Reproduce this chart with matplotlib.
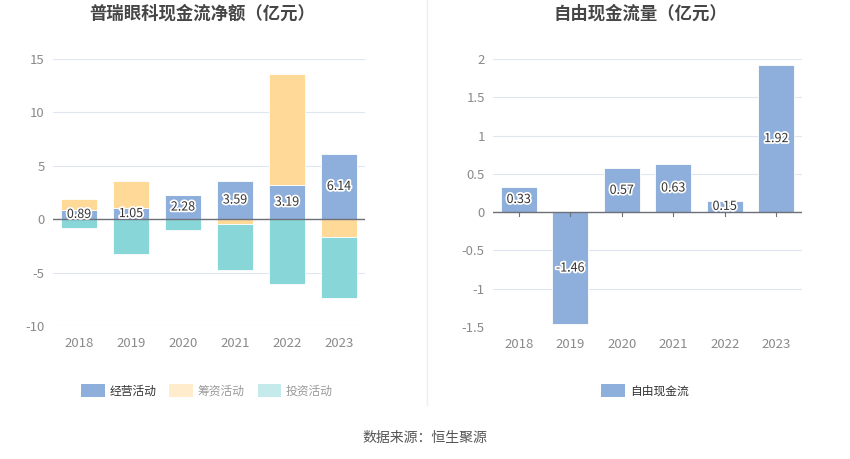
import numpy as np
import matplotlib
matplotlib.use("Agg")
import matplotlib.pyplot as plt
import matplotlib.patheffects as pe
from matplotlib.patches import Patch

plt.rcParams["font.family"] = ["Noto Sans CJK SC", "DejaVu Sans"]
plt.rcParams["axes.unicode_minus"] = False

# ── data ─────────────────────────────────────────────────────────────
years = ["2018", "2019", "2020", "2021", "2022", "2023"]
operating = [0.89, 1.05, 2.28, 3.59, 3.19, 6.14]
financing = [0.98, 2.48, 0.0, -0.47, 10.40, -1.69]
investing = [-0.84, -3.28, -0.97, -4.25, -6.03, -5.65]
free_cf = [0.33, -1.46, 0.57, 0.63, 0.15, 1.92]

left_ticks = [-10, -5, 0, 5, 10, 15]
right_ticks = [-1.5, -1, -0.5, 0, 0.5, 1, 1.5, 2]

# ── style ────────────────────────────────────────────────────────────
C_OP = "#8eaedb"
C_FIN = "#fed998"
C_INV = "#88d6d8"
GRID = "#e0e6f1"
TICK = "#8a8a8a"
BAR_W = 0.69
outline = [pe.withStroke(linewidth=2.5, foreground="white")]

fig = plt.figure(figsize=(8.5, 4.59), dpi=100)
W, H = 850, 459


def axes_px(x0, x1, y0, y1):
    return fig.add_axes([x0 / W, 1 - y1 / H, (x1 - x0) / W, (y1 - y0) / H])


def style_axes(ax, ticks, ylim, fmt):
    ax.set_xlim(-0.5, len(years) - 0.5)
    ax.set_ylim(*ylim)
    ax.set_yticks(ticks)
    ax.set_yticklabels([fmt(t) for t in ticks])
    ax.set_xticks(range(len(years)))
    ax.set_xticklabels(years)
    for s in ax.spines.values():
        s.set_visible(False)
    ax.grid(axis="y", color=GRID, linewidth=0.8)
    ax.set_axisbelow(True)
    ax.axhline(0, color="#6e7079", linewidth=1, zorder=3)
    ax.tick_params(axis="y", length=0, colors=TICK, labelsize=9.5, pad=6)
    ax.tick_params(axis="x", length=0, colors=TICK, labelsize=9.5, pad=8)


def num(t):
    return f"{t:g}"


x = np.arange(len(years))

# ── left: stacked cash flows ─────────────────────────────────────────
ax1 = axes_px(53, 365, 59, 326)
op = np.array(operating)
fin = np.array(financing)
inv = np.array(investing)
pos_base = np.zeros(len(x))
neg_base = np.zeros(len(x))
for vals, color in [(op, C_OP), (fin, C_FIN), (inv, C_INV)]:
    bottoms = np.where(vals >= 0, pos_base, neg_base)
    ax1.bar(x, vals, BAR_W, bottom=bottoms, color=color,
            edgecolor="white", linewidth=0.6, zorder=2)
    pos_base = pos_base + np.clip(vals, 0, None)
    neg_base = neg_base + np.clip(vals, None, 0)
for xi, v in zip(x, operating):
    ax1.text(xi, v / 2, f"{v:.2f}", ha="center", va="center", fontsize=9,
             color="#333333", path_effects=outline, zorder=5)
style_axes(ax1, left_ticks, (-10, 15), num)

# ── right: free cash flow ────────────────────────────────────────────
ax2 = axes_px(493, 802, 59, 327)
ax2.bar(x, free_cf, BAR_W, color=C_OP, edgecolor="white", linewidth=0.6, zorder=2)
for xi, v in zip(x, free_cf):
    ax2.text(xi, v / 2, f"{v:.2f}", ha="center", va="center", fontsize=9,
             color="#333333", path_effects=outline, zorder=5)
style_axes(ax2, right_ticks, (-1.5, 2), num)
for xi in x:
    ax2.plot([xi, xi], [0, -0.05], color="#6e7079", linewidth=0.8,
             zorder=3, clip_on=False)

# ── titles, legends, separator ───────────────────────────────────────
fig.text(202 / W, 1 - 14 / H, "普瑞眼科现金流净额（亿元）", ha="center", va="center",
         fontsize=12.5, fontweight="bold", color="#464646")
fig.text(640 / W, 1 - 14 / H, "自由现金流量（亿元）", ha="center", va="center",
         fontsize=12.5, fontweight="bold", color="#464646")

fig.add_artist(plt.Line2D([427 / W, 427 / W], [1 - 405 / H, 1], color="#eeeeee",
                          linewidth=1))

leg1 = fig.legend(
    handles=[Patch(facecolor=C_OP, edgecolor="none", label="经营活动"),
             Patch(facecolor="#ffeccc", edgecolor="none", label="筹资活动"),
             Patch(facecolor="#c4eaeb", edgecolor="none", label="投资活动")],
    loc="center", bbox_to_anchor=(207 / W, 1 - 391 / H), ncol=3, frameon=False,
    fontsize=8.5, handlelength=2.0, handleheight=1.2, handletextpad=0.4,
    columnspacing=1.1)
for t, c in zip(leg1.get_texts(), ["#333333", "#999999", "#999999"]):
    t.set_color(c)

leg2 = fig.legend(
    handles=[Patch(facecolor=C_OP, edgecolor="none", label="自由现金流")],
    loc="center", bbox_to_anchor=(645 / W, 1 - 391 / H), frameon=False,
    fontsize=8.5, handlelength=2.0, handleheight=1.2, handletextpad=0.4)
leg2.get_texts()[0].set_color("#333333")

fig.text(425 / W, 1 - 438 / H, "数据来源：恒生聚源", ha="center", va="center",
         fontsize=10, color="#555555")

fig.savefig("out.png", dpi=100)
